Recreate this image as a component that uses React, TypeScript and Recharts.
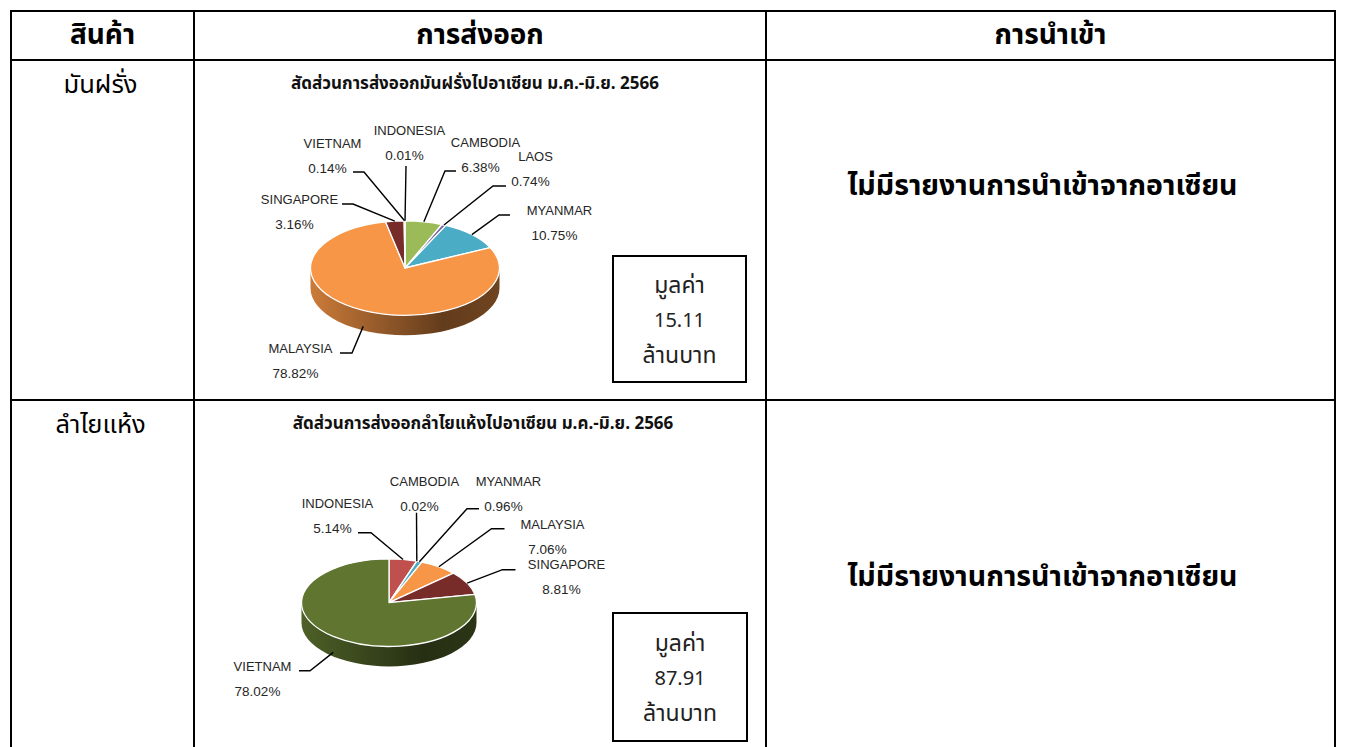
import { PieChart, Pie } from 'recharts'

// มันฝรั่ง export shares to ASEAN (%), slice order as in the source sheet
const POTATO_COUNTRIES = ['INDONESIA', 'CAMBODIA', 'LAOS', 'MYANMAR', 'MALAYSIA', 'SINGAPORE', 'VIETNAM']
const POTATO_SHARES = [0.01, 6.38, 0.74, 10.75, 78.82, 3.16, 0.14]
const POTATO_COLORS = ['#C0504D', '#9BBB59', '#8064A2', '#4BACC6', '#F79646', '#772C2A', '#5F7530']
const POTATO_VALUE = '15.11'

// ลำไยแห้ง export shares to ASEAN (%)
const LONGAN_COUNTRIES = ['INDONESIA', 'CAMBODIA', 'MYANMAR', 'MALAYSIA', 'SINGAPORE', 'VIETNAM']
const LONGAN_SHARES = [5.14, 0.02, 0.96, 7.06, 8.81, 78.02]
const LONGAN_COLORS = ['#C0504D', '#9BBB59', '#4BACC6', '#F79646', '#772C2A', '#5F7530']
const LONGAN_VALUE = '87.91'

// data labels were dragged by hand in the original, so keep their spots here
// [text x, text y, elbow x, elbow y, horizontal tail] relative to the pie centre
type LabelSpot = [number, number, number, number, number]
const POTATO_LABELS: Record<string, LabelSpot> = {
    INDONESIA: [2, -125.5, 1, -102, 0],
    CAMBODIA: [78, -113, 40, -97, 11],
    LAOS: [128, -99, 88, -82, 13],
    MYANMAR: [152, -45, 94, -53, 11],
    MALAYSIA: [-107, 93, -53, 85, -12],
    SINGAPORE: [-108, -56, -52, -64, -11],
    VIETNAM: [-75, -112, -41, -96, -11],
}
const LONGAN_LABELS: Record<string, LabelSpot> = {
    INDONESIA: [-54, -86.5, -18, -70, -13],
    CAMBODIA: [33, -109, 27.5, -90, 0],
    MYANMAR: [117, -109, 78, -94, 12],
    MALAYSIA: [161, -65.5, 102.5, -74, 13],
    SINGAPORE: [175, -25.5, 113.5, -33, 13],
    VIETNAM: [-129, 76.5, -79, 68, -11],
}

const TILT = 0.5
const DEPTH = 20
const THAI = 'Tahoma, "Leelawadee UI", "Noto Sans Thai", "Noto Sans", sans-serif'
const LATIN = 'Tahoma, "Liberation Sans", Arial, sans-serif'

function shade(hex: string, k: number) {
    const n = parseInt(hex.slice(1), 16)
    const r = Math.round(((n >> 16) & 255) * k)
    const g = Math.round(((n >> 8) & 255) * k)
    const b = Math.round((n & 255) * k)
    return `rgb(${r},${g},${b})`
}

function pt(cx: number, cy: number, rx: number, deg: number) {
    const a = (deg * Math.PI) / 180
    return { x: cx + rx * Math.cos(a), y: cy - rx * TILT * Math.sin(a) }
}

// front wall of the disc, only the part facing the viewer
const sideShape = (colors: string[], gid: string) => (p: any) => {
    const { cx, cy, outerRadius: rx, startAngle, endAngle, index } = p
    const ry = rx * TILT
    const hi = Math.min(startAngle, 0)
    const lo = Math.max(endAngle, -180)
    if (hi - lo <= 0) return <g />
    const a = pt(cx, cy, rx, hi)
    const b = pt(cx, cy, rx, lo)
    const large = hi - lo > 180 ? 1 : 0
    const d = `M${a.x},${a.y} A${rx},${ry} 0 ${large} 1 ${b.x},${b.y} L${b.x},${b.y + DEPTH} A${rx},${ry} 0 ${large} 0 ${a.x},${a.y + DEPTH} Z`
    const c = colors[index]
    return (
        <g>
            <defs>
                <linearGradient id={`${gid}-${index}`} gradientUnits="userSpaceOnUse" x1={cx - rx} x2={cx + rx} y1={0} y2={0}>
                    <stop offset="0" stopColor={shade(c, 0.82)} />
                    <stop offset="0.7" stopColor={shade(c, 0.4)} />
                    <stop offset="1" stopColor={shade(c, 0.45)} />
                </linearGradient>
            </defs>
            <path d={d} fill={`url(#${gid}-${index})`} />
        </g>
    )
}

const topShape = (colors: string[]) => (p: any) => {
    const { cx, cy, outerRadius: rx, startAngle, endAngle, index } = p
    const ry = rx * TILT
    const a = pt(cx, cy, rx, startAngle)
    const b = pt(cx, cy, rx, endAngle)
    const large = startAngle - endAngle > 180 ? 1 : 0
    const d = `M${cx},${cy} L${a.x},${a.y} A${rx},${ry} 0 ${large} 1 ${b.x},${b.y} Z`
    return <path d={d} fill={colors[index]} stroke="#fff" strokeWidth={1.3} strokeLinejoin="round" />
}

const textLabel = (names: string[], shares: number[], spots: Record<string, LabelSpot>) => (p: any) => {
    const { cx, cy, outerRadius: rx, midAngle, index } = p
    const spot = spots[names[index]]
    if (!spot) return <g />
    const [tx, ty, ex, ey, tail] = spot
    const anchor = pt(cx, cy, rx, midAngle)
    if (Math.sin((midAngle * Math.PI) / 180) < 0) anchor.y += DEPTH * 0.8
    const elbow = { x: cx + ex, y: cy + ey }
    return (
        <g>
            <path
                d={`M${elbow.x + tail},${elbow.y} L${elbow.x},${elbow.y} L${anchor.x},${anchor.y}`}
                fill="none"
                stroke="#000"
                strokeWidth={1.4}
            />
            <text x={cx + tx + 2.5} y={cy + ty - 12.5} textAnchor="middle" dominantBaseline="central"
                fontSize={13} fill="#262626" fontFamily={LATIN}>
                {names[index]}
            </text>
            <text x={cx + tx - 2.5} y={cy + ty + 12.5} textAnchor="middle" dominantBaseline="central"
                fontSize={13.5} fill="#262626" fontFamily={LATIN}>
                {shares[index].toFixed(2)}%
            </text>
        </g>
    )
}

interface ExportPieProps {
    id: string
    title: string
    names: string[]
    shares: number[]
    colors: string[]
    spots: Record<string, LabelSpot>
    value: string
    top: number
    height: number
    cx: number
    cy: number
    radius: number
    titleX: number
    box: { left: number; top: number; width: number; height: number }
}

function ExportPie(props: ExportPieProps) {
    const { id, title, names, shares, colors, spots, value, top, height, cx, cy, radius, titleX, box } = props
    const data = names.map((name, i) => ({ name, value: shares[i] }))
    const common = {
        data,
        dataKey: 'value',
        nameKey: 'name',
        cx,
        cy,
        innerRadius: 0,
        outerRadius: radius,
        startAngle: 90,
        endAngle: -270,
        fill: 'none',
        stroke: 'none',
        labelLine: false,
        isAnimationActive: false,
    }
    return (
        <div style={{ position: 'absolute', left: 195, top, width: 570, height }}>
            <div style={{
                position: 'absolute', left: titleX, top: 10, transform: 'translateX(-50%)', whiteSpace: 'nowrap',
                fontFamily: THAI, fontWeight: 'bold', fontSize: 17, color: '#111',
            }}>
                {title}
            </div>
            <PieChart width={570} height={height} margin={{ top: 0, right: 0, bottom: 0, left: 0 }}>
                <Pie {...common} label={sideShape(colors, id)} />
                <Pie {...common} label={topShape(colors)} />
                <Pie {...common} label={textLabel(names, shares, spots)} />
            </PieChart>
            <div style={{
                position: 'absolute', left: box.left, top: box.top, width: box.width, height: box.height,
                boxSizing: 'border-box', border: '2px solid #000', display: 'flex', flexDirection: 'column',
                justifyContent: 'center', alignItems: 'center', fontFamily: THAI, fontSize: 20, lineHeight: '35px',
                color: '#222', paddingTop: 4,
            }}>
                <div style={{ fontSize: 23 }}>มูลค่า</div>
                <div>{value}</div>
                <div style={{ fontSize: 23 }}>ล้านบาท</div>
            </div>
        </div>
    )
}

const line = (left: number, top: number, width: number, height: number) => (
    <div style={{ position: 'absolute', left, top, width, height, background: '#000' }} />
)

const cellText = (left: number, top: number, width: number, height: number, text: string, size: number, bold: boolean) => (
    <div style={{
        position: 'absolute', left, top, width, height, display: 'flex', alignItems: 'center',
        justifyContent: 'center', fontFamily: THAI, fontSize: size, fontWeight: bold ? 'bold' : 'normal', color: '#000',
        whiteSpace: 'nowrap',
    }}>
        {text}
    </div>
)

export default function App() {
    return (
        <div style={{ position: 'absolute', left: 0, top: 0, width: 1346, height: 747, overflow: 'hidden', background: '#fff' }}>
            {cellText(12, 12, 181, 47, 'สินค้า', 28, true)}
            {cellText(195, 12, 570, 47, 'การส่งออก', 28, true)}
            {cellText(767, 12, 567, 47, 'การนำเข้า', 28, true)}
            {cellText(10, 64, 181, 42, 'มันฝรั่ง', 25.5, false)}
            {cellText(10, 404, 181, 42, 'ลำไยแห้ง', 25.5, false)}
            {cellText(759, 158, 567, 56, 'ไม่มีรายงานการนำเข้าจากอาเซียน', 28.5, true)}
            {cellText(759, 549, 567, 56, 'ไม่มีรายงานการนำเข้าจากอาเซียน', 28.5, true)}

            <ExportPie
                id="potato"
                title="สัดส่วนการส่งออกมันฝรั่งไปอาเซียน ม.ค.-มิ.ย. 2566"
                names={POTATO_COUNTRIES}
                shares={POTATO_SHARES}
                colors={POTATO_COLORS}
                spots={POTATO_LABELS}
                value={POTATO_VALUE}
                top={61}
                height={338}
                cx={210}
                cy={207}
                radius={94.5}
                titleX={280}
                box={{ left: 417, top: 194, width: 135, height: 128 }}
            />
            <ExportPie
                id="longan"
                title="สัดส่วนการส่งออกลำไยแห้งไปอาเซียน ม.ค.-มิ.ย. 2566"
                names={LONGAN_COUNTRIES}
                shares={LONGAN_SHARES}
                colors={LONGAN_COLORS}
                spots={LONGAN_LABELS}
                value={LONGAN_VALUE}
                top={401}
                height={346}
                cx={194}
                cy={201.7}
                radius={87.5}
                titleX={288}
                box={{ left: 417, top: 211, width: 136, height: 130 }}
            />

            {line(10, 10, 1326, 2)}
            {line(10, 59, 1326, 2)}
            {line(10, 399, 1326, 2)}
            {line(10, 10, 2, 760)}
            {line(193, 10, 2, 760)}
            {line(765, 10, 2, 760)}
            {line(1334, 10, 2, 760)}
        </div>
    )
}
